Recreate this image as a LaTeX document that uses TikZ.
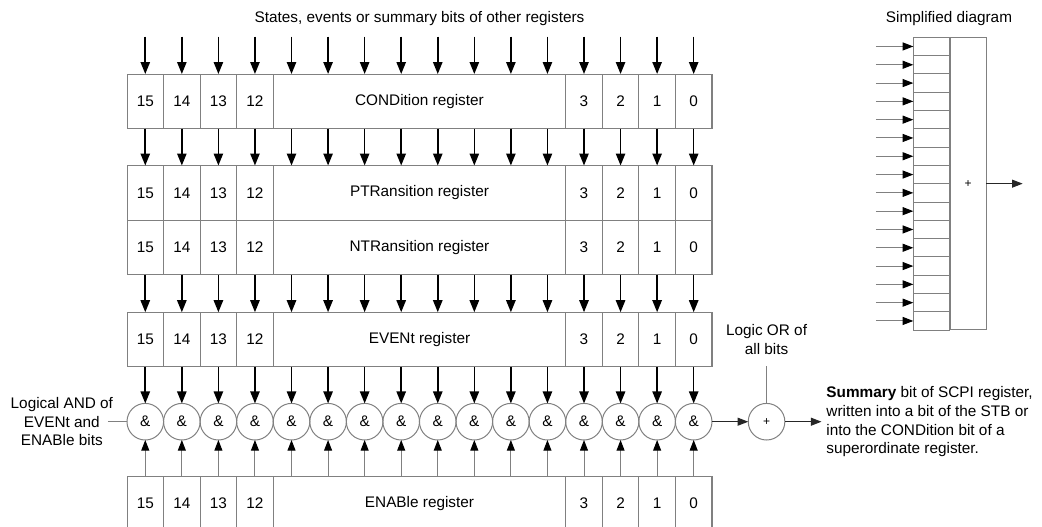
\documentclass[tikz,border=0pt]{standalone}
\usepackage{fontspec}
\setmainfont{Liberation Sans}
\usetikzlibrary{arrows.meta,positioning}
\definecolor{ink}{HTML}{000000}
\definecolor{rule}{HTML}{808080}

\begin{document}
\begin{tikzpicture}[
  x=0.75pt,y=-0.75pt,
  font=\fontsize{11.5}{14}\selectfont,
  bitcell/.style={draw=rule,line width=0.75pt,minimum width=27.42pt,minimum height=40.95pt,inner sep=0pt,outer sep=0pt},
  gate/.style={circle,draw=rule,line width=0.75pt,minimum size=27.45pt,inner sep=0pt,outer sep=0pt},
  feed/.style={-{Triangle[length=9pt,width=7pt]},line width=1.2pt,draw=ink},
  enarrow/.style={-{Triangle[length=8pt,width=6pt,color=ink]},line width=0.75pt,draw=rule},
  outarrow/.style={-{Triangle[length=8pt,width=6pt]},line width=0.75pt,draw=ink!85},
  link/.style={line width=0.75pt,draw=rule},
  note/.style={align=center,inner sep=0pt}
]
\clip (0,0) rectangle (1042,526);

% registers
\foreach \reg/\yc/\name in {cond/101.3/CONDition register,ptr/192.8/PTRansition register,
    ntr/247.4/NTRansition register,event/339.5/EVENt register,enable/503.3/ENABle register}{
  \node[bitcell,minimum width=438.75pt] (\reg) at (419.5,\yc) {};
  \foreach \b [count=\k from 0] in {15,14,13,12}
    \node[bitcell] (\reg-\b) at (145.28+36.56*\k,\yc) {\b};
  \node[bitcell,minimum width=219.4pt] (\reg-mid) at (419.5,\yc) {\name};
  \foreach \b [count=\k from 12] in {3,2,1,0}
    \node[bitcell] (\reg-\b) at (145.28+36.56*\k,\yc) {\b};
}

% AND gates
\foreach \b [count=\k from 0] in {15,14,...,0}
  \node[gate] (and-\b) at (145.28+36.56*\k,421.7) {\&};

\node (title) at (419.5,19) {States, events or summary bits of other registers};
\coordinate (inputs) at (419.5,36.7);
\foreach \b in {15,14,...,0}{
  \draw[feed] (inputs -| and-\b) -- (cond.north -| and-\b);
  \draw[feed] (cond.south -| and-\b) -- (ptr.north -| and-\b);
  \draw[feed] (ntr.south -| and-\b) -- (event.north -| and-\b);
  \draw[feed] (event.south -| and-\b) -- (and-\b);
  \draw[enarrow] (enable.north -| and-\b) -- (and-\b);
}

% OR and summary
\node[gate,right=27.2pt of and-0,font=\fontsize{9}{10}\selectfont] (plus) {+};
\draw[outarrow] (and-0) -- (plus);
\node[note,above=36.5pt of plus] (ornote) {Logic OR of\\all bits};
\draw[link] (plus) -- ([yshift=-8.5pt]ornote.south);
\node[note,align=left,right=31pt of plus] (summary) {\textbf{Summary} bit of SCPI register,\\written into a bit of the STB or\\into the CONDition bit of a\\superordinate register.};
\draw[outarrow] (plus) -- ([xshift=-3.5pt]summary.west);
\node[note,left=10.3pt of and-15] (andnote) {Logical AND of\\EVENt and\\ENABle bits};
\draw[link] ([xshift=-4pt]andnote.east) -- (and-15);

% simplified diagram
\node (simpletitle) at (949,19) {Simplified diagram};
\node[bitcell,minimum width=27pt,minimum height=219.5pt,font=\fontsize{9}{10}\selectfont] (sum) at (968,183.65) {+};
\foreach \k in {0,...,15}{
  \node[bitcell,minimum width=27.5pt,minimum height=13.72pt] (cell-\k) at (931.65,46.45+18.3*\k) {};
  \draw[enarrow] ([xshift=-28pt]cell-\k.west) -- (cell-\k);
}
\draw[outarrow] (sum) -- ([xshift=27.5pt]sum.east);
\end{tikzpicture}
\end{document}
